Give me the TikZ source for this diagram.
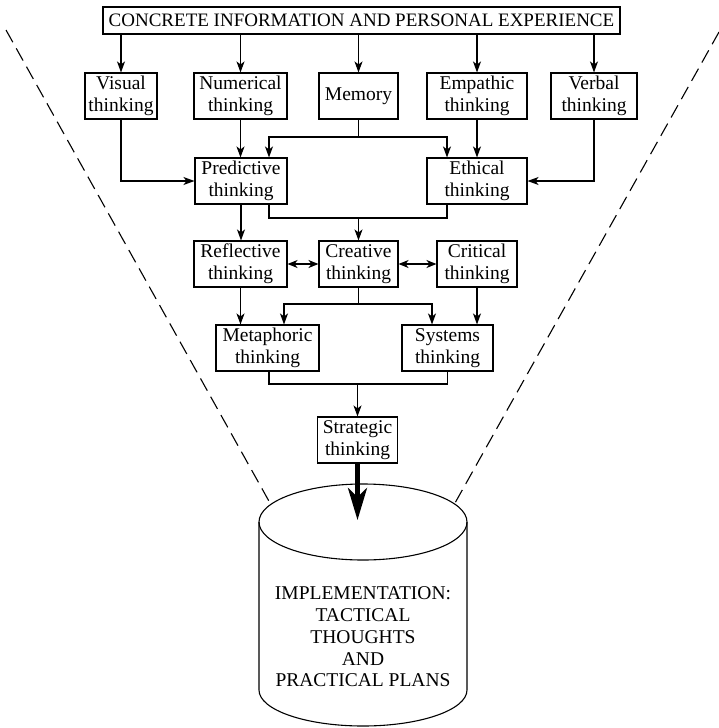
\documentclass[tikz,border=0pt]{standalone}
\usepackage{fontspec}
\setmainfont{Liberation Serif}
\usetikzlibrary{arrows.meta}
\begin{document}
\begin{tikzpicture}[x=1pt,y=-1pt,
  box/.style={draw, line width=1.1pt, inner sep=0pt, align=center,
    font=\fontsize{19.5}{21.7}\selectfont, minimum height=46pt},
  link/.style={line width=1.1pt},
  arr/.style={line width=1.1pt, -{Stealth[length=11pt,width=8pt,inset=3pt]}},
  both/.style={line width=1.1pt,
    {Stealth[length=10pt,width=8pt,inset=3pt]}-{Stealth[length=10pt,width=8pt,inset=3pt]}},
  heavy/.style={line width=4.5pt, -{Stealth[length=32pt,width=19pt,inset=9pt]}},
  rim/.style={line width=1.1pt, dash pattern=on 14pt off 7pt}]
\useasboundingbox (0,0) rectangle (719,728);

% funnel outline
\draw[rim] (6,30) -- (270,503);
\draw[rim] (719,32) -- (455,503);

% source of all thinking
\node[box, minimum width=517pt, minimum height=27pt,
  font=\fontsize{19}{21}\selectfont] (src) at (361.5,20.5)
  {CONCRETE INFORMATION AND PERSONAL EXPERIENCE};

% first row
\node[box, minimum width=72pt]  (visual)    at (121,96)   {Visual\\thinking};
\node[box, minimum width=93pt]  (numerical) at (240.5,96) {Numerical\\thinking};
\node[box, minimum width=79pt]  (memory)    at (358.5,96) {Memory};
\node[box, minimum width=100pt] (empathic)  at (477,96)   {Empathic\\thinking};
\node[box, minimum width=86pt]  (verbal)    at (594,96)   {Verbal\\thinking};

% second row
\node[box, minimum width=92pt]  (predictive) at (241,181) {Predictive\\thinking};
\node[box, minimum width=100pt] (ethical)    at (477,181) {Ethical\\thinking};

% third row
\node[box, minimum width=93pt] (reflective) at (240.5,264) {Reflective\\thinking};
\node[box, minimum width=79pt] (creative)   at (358.5,264) {Creative\\thinking};
\node[box, minimum width=80pt] (critical)   at (477,264)   {Critical\\thinking};

% fourth row
\node[box, minimum width=103pt] (metaphoric) at (267.5,348) {Metaphoric\\thinking};
\node[box, minimum width=91pt]  (systems)    at (447.5,348) {Systems\\thinking};

% strategic thinking
\node[box, minimum width=80pt] (strategic) at (357.5,440) {Strategic\\thinking};

% arrows from the source
\foreach \n in {visual,numerical,memory,empathic,verbal}
  \draw[arr] (src.south -| \n.north) -- (\n.north);

% into predictive and ethical thinking
\coordinate (mjoin) at (358.5,137);
\draw[link] (memory.south) -- (mjoin);
\draw[arr] (mjoin) -| ([xshift=28pt]predictive.north);
\draw[arr] (mjoin) -| ([xshift=-30pt]ethical.north);
\draw[arr] (numerical.south) -- (numerical.south |- predictive.north);
\draw[arr] (empathic.south) -- (empathic.south |- ethical.north);
\draw[arr] (visual.south) |- (predictive.west);
\draw[arr] (verbal.south) |- (ethical.east);

% predictive and ethical feed creative thinking
\coordinate (pejoin) at (358.5,218);
\draw[link] ([xshift=28pt]predictive.south) |- (pejoin) -| ([xshift=-30pt]ethical.south);
\draw[arr] (pejoin) -- (creative.north);
\draw[arr] (predictive.south) -- (predictive.south |- reflective.north);

% exchanges with creative thinking
\draw[both] (reflective.east) -- (creative.west);
\draw[both] (creative.east) -- (critical.west);

% into metaphoric and systems thinking
\coordinate (cjoin) at (358.5,304);
\draw[link] (creative.south) -- (cjoin);
\draw[arr] (cjoin) -| ([xshift=16.5pt]metaphoric.north);
\draw[arr] (cjoin) -| ([xshift=-15.5pt]systems.north);
\draw[arr] (reflective.south) -- (reflective.south |- metaphoric.north);
\draw[arr] (critical.south) -- (critical.south |- systems.north);

% into strategic thinking
\coordinate (msjoin) at (357.5,384);
\draw[link] ([xshift=1.5pt]metaphoric.south) |- (msjoin) -| (systems.south);
\draw[arr] (msjoin) -- (strategic.north);

% implementation store
\draw[line width=1.1pt] (363,522) ellipse [x radius=104pt, y radius=38pt];
\draw[line width=1.1pt] (259,522) -- (259,690)
  arc[start angle=180, end angle=360, x radius=104pt, y radius=36pt] -- (467,522);
\node[align=center, font=\fontsize{19.5}{21.7}\selectfont] (impl) at (363,637)
  {IMPLEMENTATION:\\TACTICAL\\THOUGHTS\\AND\\PRACTICAL PLANS};

\coordinate (drop) at (357.5,520);
\draw[heavy] (strategic.south) -- (drop);
\end{tikzpicture}
\end{document}
